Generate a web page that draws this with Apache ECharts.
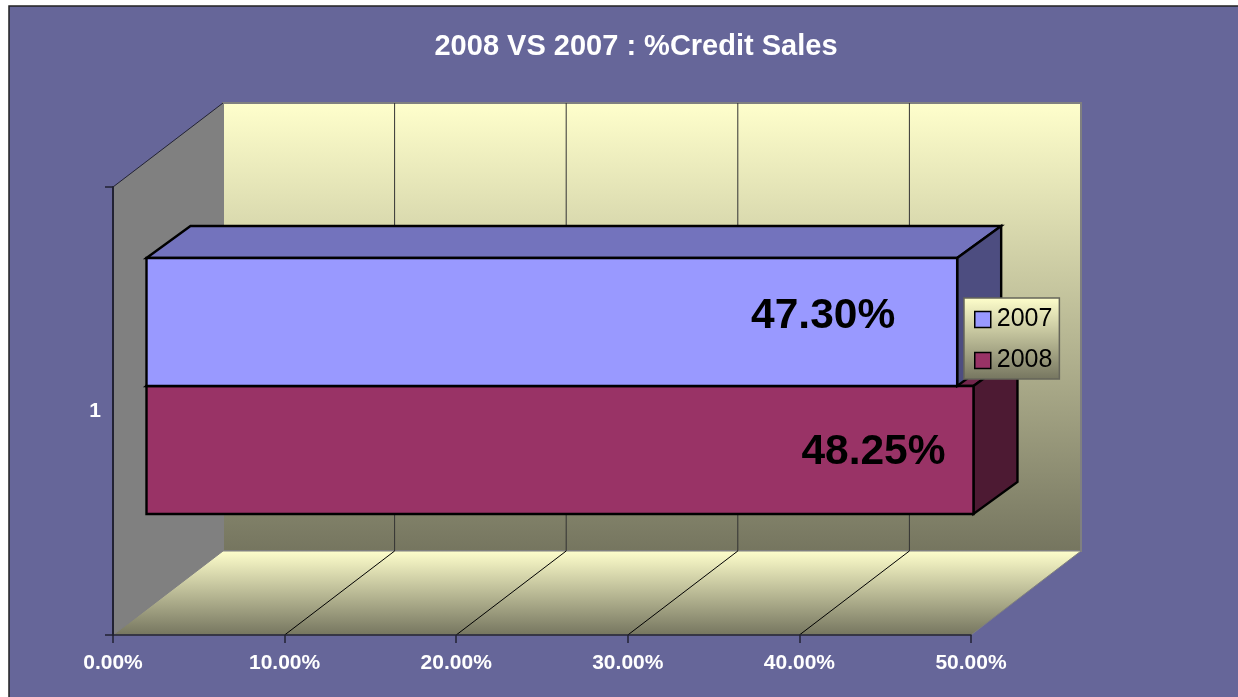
<!DOCTYPE html>
<html>
<head>
<meta charset="utf-8">
<style>
html,body{margin:0;padding:0;background:#fff}
#main{width:1238px;height:697px}
</style>
<script src="https://cdn.jsdelivr.net/npm/echarts@6/dist/echarts.min.js"></script>
</head>
<body>
<div id="main"></div>
<script>
var categories = ['1'];
var years = ['2007', '2008'];
var sales2007 = [0.473];
var sales2008 = [0.4825];
var xTicks = [0, 0.1, 0.2, 0.3, 0.4, 0.5];
var valueLabels2007 = ['47.30%'];
var valueLabels2008 = ['48.25%'];

// fake 3d depth, the way excel draws it
var WALL_DX = 110, WALL_DY = -84;
var BAR_DX = 44, BAR_DY = -32;
var BAR_H = 128;

function poly(points, fill, stroke, lineWidth) {
    return {
        type: 'polygon',
        shape: { points: points },
        style: { fill: fill, stroke: stroke || null, lineWidth: lineWidth || 0 }
    };
}
function line(a, b, color, w) {
    return {
        type: 'line',
        shape: { x1: a[0], y1: a[1], x2: b[0], y2: b[1] },
        style: { stroke: color, lineWidth: w }
    };
}
function wallFill() {
    return new echarts.graphic.LinearGradient(0, 0, 0, 1, [
        { offset: 0, color: '#ffffcc' },
        { offset: 1, color: '#75755f' }
    ]);
}

// back wall, side wall, floor and the gridlines
function renderWalls(params, api) {
    var v = api.value(0);
    var yTop = api.coord([0, 0])[1] - api.size([0, 1])[1] / 2;
    var p = api.coord([v, 0]);
    var x = p[0];
    var yBot = yTop + api.size([0, 1])[1];
    var children = [];
    if (params.dataIndex === 0) {
        var xEnd = api.coord([0.5, 0])[0];
        children.push(poly([[x + WALL_DX, yTop + WALL_DY], [xEnd + WALL_DX, yTop + WALL_DY], [xEnd + WALL_DX, yBot + WALL_DY], [x + WALL_DX, yBot + WALL_DY]], wallFill(), '#808080', 2));
        children.push(poly([[x, yTop], [x + WALL_DX, yTop + WALL_DY], [x + WALL_DX, yBot + WALL_DY], [x, yBot]], '#808080'));
        children.push(poly([[x, yBot], [xEnd, yBot], [xEnd + WALL_DX, yBot + WALL_DY], [x + WALL_DX, yBot + WALL_DY]], wallFill(), '#808080', 1));
        children.push(line([x, yTop], [x + WALL_DX, yTop + WALL_DY], '#222233', 1));
    } else if (v < 0.5) {
        children.push(line([x + WALL_DX, yTop + WALL_DY], [x + WALL_DX, yBot + WALL_DY], '#333333', 1));
        children.push(line([x, yBot], [x + WALL_DX, yBot + WALL_DY], '#000000', 1));
    }
    return { type: 'group', children: children };
}

function barRenderer(labels, color, topColor, sideColor, faceShift, labelDx, labelDy) {
    return function (params, api) {
        var start = api.coord([0, api.value(1)]);
        var end = api.coord([api.value(0), api.value(1)]);
        var shiftX = (WALL_DX - BAR_DX) / 2;
        var shiftY = (WALL_DY - BAR_DY) / 2 + 1;
        var x0 = start[0] + shiftX + 0.5;
        var x1 = end[0] + shiftX - 0.5;
        var y0 = start[1] + shiftY + faceShift;
        var y1 = y0 + BAR_H;
        var k = '#000000';
        return {
            type: 'group',
            children: [
                poly([[x0, y0], [x0 + BAR_DX, y0 + BAR_DY], [x1 + BAR_DX, y0 + BAR_DY], [x1, y0]], topColor, k, 2.4),
                poly([[x1, y0], [x1 + BAR_DX, y0 + BAR_DY], [x1 + BAR_DX, y1 + BAR_DY], [x1, y1]], sideColor, k, 2.4),
                poly([[x0, y0], [x1, y0], [x1, y1], [x0, y1]], color, k, 2.4),
                {
                    type: 'text',
                    style: {
                        text: labels[params.dataIndex],
                        x: x1 + labelDx,
                        y: (y0 + y1) / 2 + labelDy,
                        fill: '#000',
                        align: 'center',
                        verticalAlign: 'middle',
                        font: 'bold 42.5px "Liberation Sans", Arial, sans-serif'
                    }
                }
            ]
        };
    };
}

var chart = echarts.init(document.getElementById('main'), null, { renderer: 'canvas' });
chart.setOption({
    animation: false,
    backgroundColor: '#ffffff',
    textStyle: { fontFamily: '"Liberation Sans", Arial, sans-serif' },
    title: {
        text: '2008 VS 2007 : %Credit Sales',
        left: 631,
        top: 27,
        textAlign: 'center',
        textStyle: { color: '#ffffff', fontSize: 29, fontWeight: 'bold', fontFamily: '"Liberation Sans", Arial, sans-serif' }
    },
    graphic: [{
        type: 'rect',
        z: -10,
        shape: { x: 9, y: 6, width: 1240, height: 700 },
        style: { fill: '#666699', stroke: '#222222', lineWidth: 1.5 }
    }],
    legend: {
        data: years,
        orient: 'vertical',
        left: 964,
        top: 298,
        padding: [9, 7, 6, 10],
        itemWidth: 16,
        itemHeight: 16,
        itemGap: 16,
        icon: 'rect',
        selectedMode: false,
        borderColor: '#66665a',
        borderWidth: 1.5,
        backgroundColor: {
            type: 'linear', x: 0, y: 0, x2: 0, y2: 1,
            colorStops: [{ offset: 0, color: '#ffffcc' }, { offset: 1, color: '#75755f' }]
        },
        itemStyle: { borderColor: '#000', borderWidth: 1.5 },
        textStyle: { color: '#000', fontSize: 25, padding: [0, 0, 0, 1], fontFamily: '"Liberation Sans", Arial, sans-serif' }
    },
    grid: { left: 113, top: 187, width: 858, height: 448 },
    xAxis: {
        type: 'value',
        min: 0,
        max: 0.5,
        interval: 0.1,
        z: 5,
        splitLine: { show: false },
        axisLine: { show: true, lineStyle: { color: '#222233', width: 1.5 } },
        axisTick: { show: true, length: 8, lineStyle: { color: '#222233', width: 1.5 } },
        axisLabel: {
            color: '#fff', fontWeight: 'bold', fontSize: 21, margin: 18,
            formatter: function (v) { return (v * 100).toFixed(2) + '%'; }
        }
    },
    yAxis: {
        type: 'category',
        data: categories,
        z: 5,
        axisLine: { show: true, lineStyle: { color: '#222233', width: 2 } },
        axisTick: { show: true, length: 8, lineStyle: { color: '#222233', width: 1.5 } },
        axisLabel: { color: '#fff', fontWeight: 'bold', fontSize: 21, margin: 12 }
    },
    series: [
        {
            type: 'custom',
            name: 'walls',
            z: 1,
            silent: true,
            renderItem: renderWalls,
            encode: { x: 0 },
            data: xTicks.map(function (t) { return [t]; })
        },
        {
            type: 'custom',
            name: years[0],
            z: 3,
            itemStyle: { color: '#9999ff' },
            encode: { x: 0, y: 1 },
            renderItem: barRenderer(valueLabels2007, '#9999ff', '#7373bd', '#4d4d80', -BAR_H, -134, -6),
            data: sales2007.map(function (v, i) { return [v, i]; })
        },
        {
            type: 'custom',
            name: years[1],
            z: 2,
            itemStyle: { color: '#993366' },
            encode: { x: 0, y: 1 },
            renderItem: barRenderer(valueLabels2008, '#993366', '#73264d', '#4d1a33', 0, -100, 2),
            data: sales2008.map(function (v, i) { return [v, i]; })
        }
    ]
});
</script>
</body>
</html>
